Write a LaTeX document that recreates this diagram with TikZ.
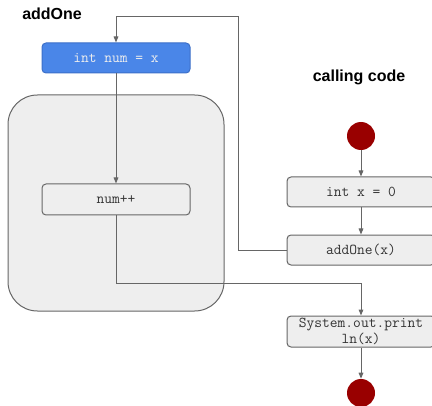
\documentclass[tikz,border=0pt]{standalone}
\usepackage{fontspec}
\setmainfont{Liberation Sans}
\usetikzlibrary{arrows.meta}
\definecolor{boxfill}{HTML}{EEEEEE}
\definecolor{boxline}{HTML}{666666}
\definecolor{bluefill}{HTML}{4A86E8}
\definecolor{blueline}{HTML}{3C6FC8}
\definecolor{dotred}{HTML}{990000}
\definecolor{codegray}{HTML}{333333}
\def\px{0.75pt}
\tikzset{
  x=0.75pt, y=-0.75pt,
  stepbox/.style={draw=boxline, fill=boxfill, line width=0.75pt, rounded corners=3pt,
    minimum width=148*\px, minimum height=30*\px, inner sep=1pt,
    font=\ttfamily\fontsize{11.3}{12}\selectfont, text=codegray, align=center},
  bluebox/.style={stepbox, fill=bluefill, draw=blueline, text=boxfill},
  dot/.style={circle, fill=dotred, draw=none, minimum size=28*\px, inner sep=0pt},
  title/.style={font=\bfseries\fontsize{12}{14}\selectfont, text=black, inner sep=0pt},
  arr/.style={draw=boxline, line width=0.75pt, -{Triangle[width=3.5pt,length=4.5pt]}},
}
\begin{document}
\begin{tikzpicture}
\useasboundingbox (0,0) rectangle (432,406);
% method body background
\draw[draw=boxline, fill=boxfill, line width=0.75pt, rounded corners=22pt] (8,95) rectangle (224,311);

\node[title, anchor=west] (t1) at (22,14) {addOne};
\node[title] (t2) at (359,77) {calling code};

\node[bluebox] (init) at (116,58) {int num = x};
\node[stepbox, minimum height=31*\px] (inc) at (116,199.5) {num++};

\node[dot] (start) at (361,136) {};
\node[stepbox] (decl) at (361,192) {int x = 0};
\node[stepbox] (call) at (361,250) {addOne(x)};
\node[stepbox, minimum height=31*\px] (print) at (361,331.5) {System.out.print\\ln(x)};
\node[dot] (stop) at (361,393) {};

\coordinate (loop) at (238,17);
\coordinate (ret) at (361,283);

\draw[arr] (start) -- (decl);
\draw[arr] (decl) -- (call);
\draw[arr] (call.west) -| (loop) -| (init.north);
\draw[arr] (init) -- (inc);
\draw[arr] (inc.south) |- (ret) -- (print.north);
\draw[arr] (print) -- (stop);
\end{tikzpicture}
\end{document}
